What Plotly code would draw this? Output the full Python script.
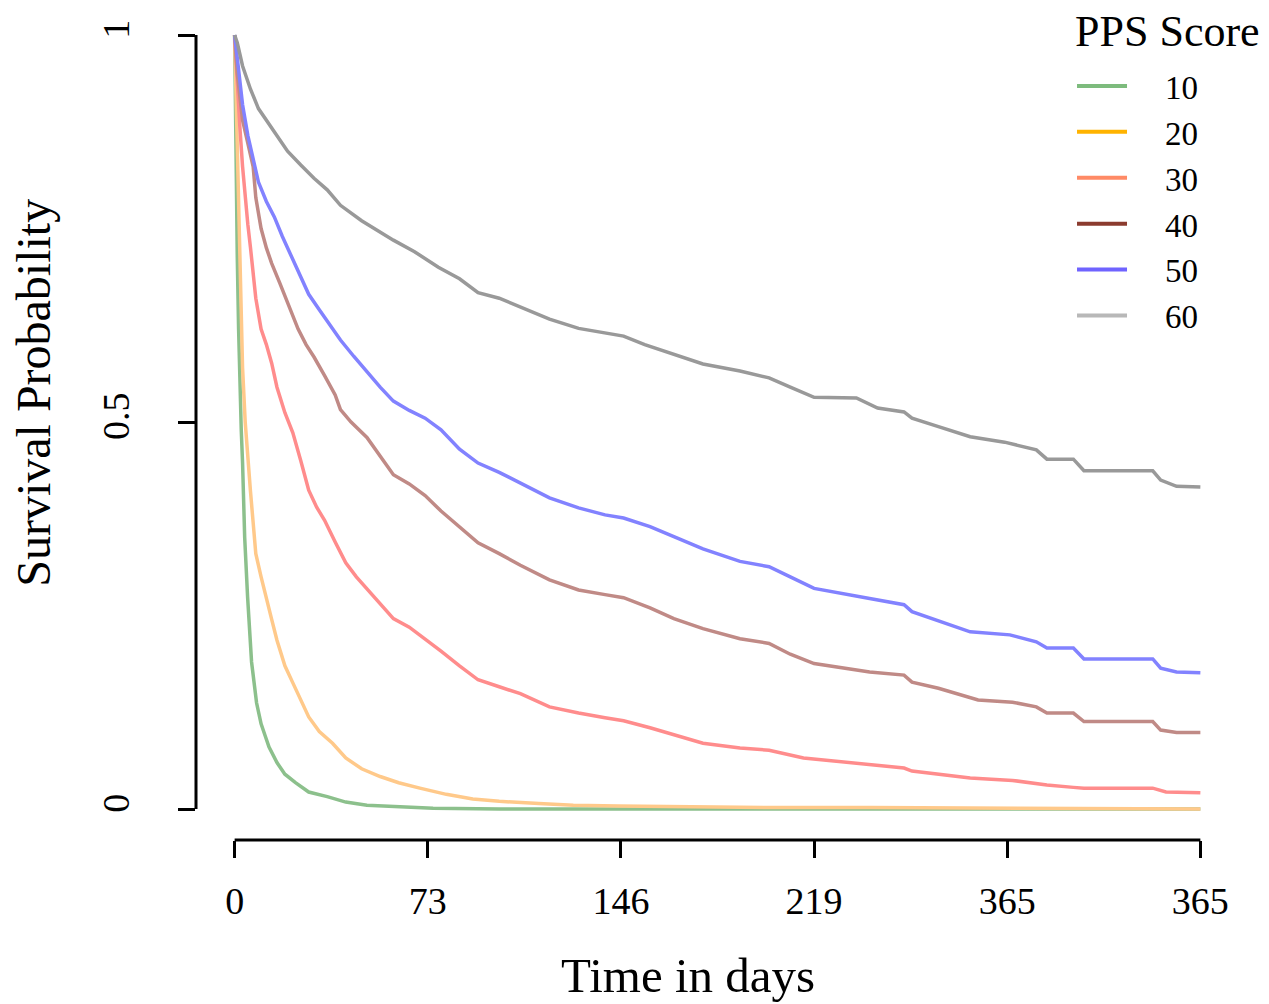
import plotly.graph_objects as go

# PPS score groups
groups = ["10", "20", "30", "40", "50", "60"]

# Kaplan-Meier estimates (time in days, survival)
t10 = [0, 0.3, 1, 1.5, 2, 2.5, 3, 3.8, 4.9, 6.4, 8.3, 10, 11.5, 13, 16, 19, 23, 28, 35, 42, 50, 60, 75, 100, 365]
s10 = [1.0, 0.88, 0.713, 0.62, 0.544, 0.49, 0.447, 0.351, 0.274, 0.19, 0.137, 0.11, 0.095, 0.08, 0.06, 0.045,
       0.034, 0.022, 0.016, 0.009, 0.005, 0.003, 0.001, 0.0, 0.0]

t20 = [0, 0.5, 1, 2, 3, 4, 5, 6, 7, 8, 10, 12, 14, 16, 19, 22, 25, 28, 32, 37, 42, 48, 55, 62, 70, 80, 90, 100,
       115, 128, 145, 166, 200, 240, 294, 330, 365]
s20 = [1.0, 0.93, 0.85, 0.72, 0.57, 0.50, 0.45, 0.41, 0.37, 0.33, 0.30, 0.27, 0.245, 0.218, 0.185, 0.163, 0.14,
       0.119, 0.10, 0.085, 0.066, 0.052, 0.042, 0.034, 0.027, 0.019, 0.013, 0.01, 0.007, 0.005, 0.004, 0.003,
       0.002, 0.002, 0.001, 0.0, 0.0]

t30 = [0, 0.5, 1, 2, 3, 4, 5, 6, 7, 8, 10, 12, 14, 16, 19, 22, 25, 28, 31, 34, 38, 42, 46, 50, 55, 60, 66, 72,
       78, 85, 92, 100, 108, 119, 130, 140, 147, 157, 166, 177, 191, 202, 215, 236, 253, 256, 278, 294, 307,
       317, 321, 347, 352, 365]
s30 = [1.0, 0.97, 0.93, 0.88, 0.83, 0.79, 0.755, 0.725, 0.69, 0.66, 0.62, 0.60, 0.576, 0.545, 0.512, 0.486,
       0.45, 0.412, 0.39, 0.373, 0.345, 0.318, 0.30, 0.285, 0.265, 0.246, 0.235, 0.22, 0.204, 0.185, 0.167,
       0.158, 0.149, 0.132, 0.124, 0.118, 0.114, 0.105, 0.096, 0.085, 0.079, 0.076, 0.066, 0.059, 0.053,
       0.049, 0.04, 0.037, 0.031, 0.028, 0.027, 0.027, 0.022, 0.021]

t40 = [0, 1, 2, 3, 5, 7, 8, 10, 12, 14, 17, 20, 24, 27, 30, 34, 38, 40, 44, 50, 55, 60, 66, 72, 78, 85, 92,
       100, 108, 119, 130, 140, 147, 157, 166, 177, 191, 202, 210, 219, 240, 253, 256, 266, 281, 294, 303,
       307, 317, 321, 347, 350, 356, 365]
s40 = [1.0, 0.95, 0.92, 0.89, 0.86, 0.83, 0.79, 0.75, 0.725, 0.705, 0.68, 0.655, 0.62, 0.60, 0.584, 0.56,
       0.535, 0.516, 0.50, 0.48, 0.455, 0.432, 0.42, 0.405, 0.385, 0.365, 0.344, 0.33, 0.315, 0.296, 0.283,
       0.277, 0.273, 0.26, 0.246, 0.233, 0.22, 0.214, 0.20, 0.188, 0.177, 0.173, 0.164, 0.156, 0.141, 0.138,
       0.132, 0.124, 0.124, 0.113, 0.113, 0.102, 0.099, 0.099]

t50 = [0, 1, 2, 3, 5, 7, 9, 12, 15, 18, 22, 25, 28, 32, 36, 40, 45, 50, 55, 60, 66, 72, 78, 85, 92, 100, 108,
       119, 130, 140, 147, 157, 166, 177, 191, 202, 210, 219, 240, 253, 256, 263, 278, 293, 303, 307, 317,
       321, 347, 350, 356, 365]
s50 = [1.0, 0.97, 0.94, 0.91, 0.87, 0.84, 0.81, 0.785, 0.765, 0.74, 0.71, 0.69, 0.665, 0.645, 0.625, 0.606,
       0.585, 0.565, 0.545, 0.527, 0.515, 0.505, 0.49, 0.465, 0.447, 0.435, 0.421, 0.402, 0.389, 0.38, 0.376,
       0.365, 0.352, 0.336, 0.32, 0.313, 0.30, 0.285, 0.272, 0.264, 0.255, 0.247, 0.229, 0.225, 0.216, 0.208,
       0.208, 0.194, 0.194, 0.182, 0.177, 0.176]

t60 = [0, 1, 3, 6, 9, 12, 15, 20, 25, 30, 35, 40, 48, 55, 60, 68, 77, 85, 92, 100, 108, 119, 130, 140, 147,
       155, 166, 177, 191, 202, 210, 219, 235, 243, 253, 256, 266, 278, 291, 303, 307, 317, 321, 347, 350,
       356, 365]
s60 = [1.0, 0.99, 0.96, 0.93, 0.905, 0.89, 0.873, 0.85, 0.832, 0.815, 0.80, 0.78, 0.76, 0.745, 0.735, 0.72,
       0.70, 0.685, 0.667, 0.66, 0.649, 0.633, 0.621, 0.615, 0.611, 0.60, 0.588, 0.575, 0.566, 0.557, 0.545,
       0.532, 0.531, 0.518, 0.513, 0.505, 0.494, 0.481, 0.474, 0.464, 0.452, 0.452, 0.437, 0.437, 0.425,
       0.417, 0.416]

xtick_vals = [0, 73, 146, 219, 292, 365]
xtick_text = ["0", "73", "146", "219", "365", "365"]
ytick_vals = [0, 0.5, 1]
ytick_text = ["0", "0.5", "1"]

times = [t10, t20, t30, t40, t50, t60]
survs = [s10, s20, s30, s40, s50, s60]
line_cols = ["#8cc08c", "#ffc98a", "#ff8c8c", "#c08a86", "#8282ff", "#999999"]
legend_cols = ["#7dbb7d", "#ffb300", "#ff8a66", "#8b3b2e", "#6f63ff", "#b8b8b8"]

font = "Liberation Serif, Times New Roman, serif"
pad = "\u00a0" * 4  # gap between legend swatch and label

fig = go.Figure()
for g, t, s, c in zip(groups, times, survs, line_cols):
    fig.add_trace(go.Scatter(x=t, y=s, mode="lines", line=dict(color=c, width=3.5),
                             showlegend=False, hoverinfo="skip"))
# legend entries use the stronger colours like the original
for g, c in zip(groups, legend_cols):
    fig.add_trace(go.Scatter(x=[None], y=[None], mode="lines", line=dict(color=c, width=4), name=pad + g))

# R-style axis lines spanning only the tick range
fig.add_shape(type="line", xref="x", yref="paper", x0=0, x1=365, y0=0, y1=0,
              line=dict(color="black", width=3))
fig.add_shape(type="line", xref="paper", yref="y", x0=0, x1=0, y0=0, y1=1,
              line=dict(color="black", width=3))

# axis titles (R puts them a bit off-centre here) and legend title
fig.add_annotation(text="Time in days", xref="paper", yref="paper", x=0.4717, y=-0.1623,
                   showarrow=False, font=dict(size=49), xanchor="center", yanchor="middle")
fig.add_annotation(text="Survival Probability", xref="paper", yref="paper", x=-0.1555, y=0.5373,
                   showarrow=False, font=dict(size=48), textangle=-90,
                   xanchor="center", yanchor="middle")
fig.add_annotation(text="PPS Score", xref="paper", yref="paper", x=0.8408, y=0.9712,
                   showarrow=False, font=dict(size=44), xanchor="left", yanchor="middle")

fig.update_layout(
    width=1269, height=1004,
    margin=dict(l=188, r=38, t=0, b=172, autoexpand=False),
    plot_bgcolor="white", paper_bgcolor="white",
    font=dict(family=font, size=38, color="black"),
    xaxis=dict(range=[-14.6, 379.6], showgrid=False, zeroline=False, showline=False, automargin=False,
               tickvals=xtick_vals, ticktext=xtick_text, ticks="outside", ticklen=17,
               tickwidth=3, tickcolor="black", ticklabelstandoff=10),
    yaxis=dict(range=[-0.04, 1.0349], showgrid=False, zeroline=False, showline=False, automargin=False,
               tickvals=ytick_vals, ticktext=ytick_text, ticks="outside", ticklen=17,
               tickwidth=3, tickcolor="black", tickangle=-90, ticklabelstandoff=34),
    legend=dict(x=0.8399, y=0.9399, xanchor="left", yanchor="top", bgcolor="rgba(0,0,0,0)",
                font=dict(size=33), tracegroupgap=0, itemwidth=50),
)

fig.write_html("out.html")
